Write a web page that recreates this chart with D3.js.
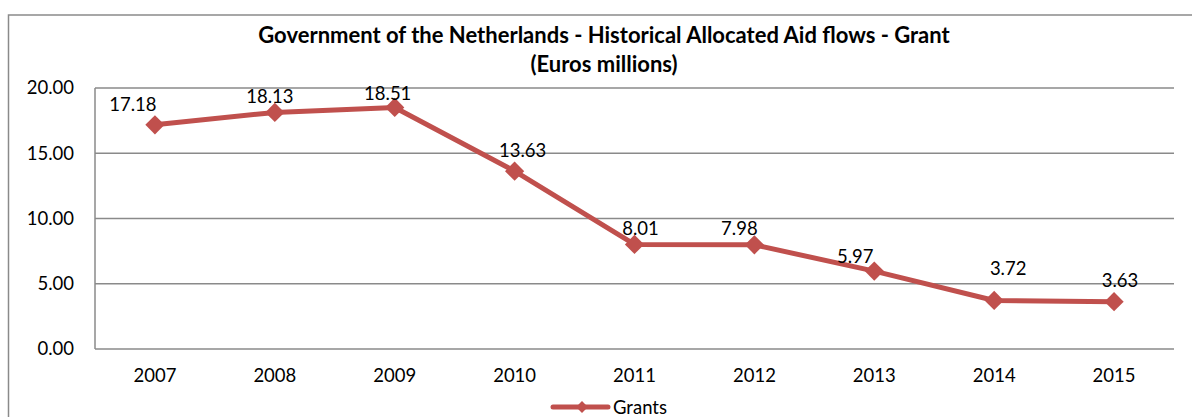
<!DOCTYPE html>
<html>
<head>
<meta charset="utf-8">
<script src="https://cdn.jsdelivr.net/npm/d3@7"></script>
<style>
  html, body { margin: 0; padding: 0; background: #fff; }
  svg { display: block; }
  text { font-family: Lato, "Open Sans", sans-serif; fill: #000; }
</style>
</head>
<body>
<svg id="chart" width="1192" height="417"></svg>
<script>
// Grant allocations per year, euros millions
const years = ["2007", "2008", "2009", "2010", "2011", "2012", "2013", "2014", "2015"];
const grants = [17.18, 18.13, 18.51, 13.63, 8.01, 7.98, 5.97, 3.72, 3.63];
const yTicks = [0, 5, 10, 15, 20];
const titleLines = [
  "Government of the Netherlands - Historical Allocated Aid flows - Grant",
  "(Euros millions)"
];
const seriesName = "Grants";

// hand-placed nudges for the value labels, relative to each marker
const labelNudge = [[-22, -21], [-5, -16], [-7, -14], [8, -21], [6, -16], [-15, -17], [-19, -15], [14, -32], [6, -22]];

const W = 1192, H = 417;
const plot = { left: 95, right: 1174, top: 88, bottom: 349 };
const RED = "#C0504D";
const GRID = "#8a8a8a";

const svg = d3.select("#chart");

// outer chart frame (extends past the right/bottom of the view)
svg.append("rect")
  .attr("x", 8.5).attr("y", 15)
  .attr("width", 1300).attr("height", 600)
  .attr("fill", "#fff")
  .attr("stroke", GRID).attr("stroke-width", 1.5);

const x = d3.scaleBand().domain(years).range([plot.left, plot.right]);
const y = d3.scaleLinear().domain([0, 20]).range([plot.bottom, plot.top]);

// title
svg.append("g").selectAll("text")
  .data(titleLines).join("text")
  .attr("x", 604)
  .attr("y", (d, i) => 34 + i * 29)
  .attr("text-anchor", "middle")
  .attr("dominant-baseline", "central")
  .attr("font-weight", "bold")
  .attr("font-size", 22)
  .text(d => d);

// horizontal gridlines
svg.append("g").selectAll("line")
  .data(yTicks).join("line")
  .attr("x1", plot.left).attr("x2", plot.right)
  .attr("y1", d => y(d)).attr("y2", d => y(d))
  .attr("stroke", GRID).attr("stroke-width", 1.5);

// vertical axis line
svg.append("line")
  .attr("x1", plot.left).attr("x2", plot.left)
  .attr("y1", y(20)).attr("y2", y(0))
  .attr("stroke", GRID).attr("stroke-width", 1.5);

// y axis labels
const yAxis = d3.axisLeft(y).tickValues(yTicks).tickFormat(d3.format(".2f")).tickSize(0).tickPadding(21);
const gy = svg.append("g").attr("transform", `translate(${plot.left},0)`).call(yAxis);
gy.select(".domain").remove();
gy.selectAll("text").attr("font-size", 18.5).attr("font-family", "Lato, sans-serif").attr("fill", "#000");

// x axis labels
const xAxis = d3.axisBottom(x).tickSize(0).tickPadding(20);
const gx = svg.append("g").attr("transform", `translate(0,${plot.bottom})`).call(xAxis);
gx.select(".domain").remove();
gx.selectAll("text").attr("font-size", 18.5).attr("font-family", "Lato, sans-serif").attr("fill", "#000");

const cx = (d, i) => x(years[i]) + x.bandwidth() / 2;

// series line
const line = d3.line().x((d, i) => cx(d, i)).y(d => y(d));
svg.append("path")
  .datum(grants)
  .attr("d", line)
  .attr("fill", "none")
  .attr("stroke", RED)
  .attr("stroke-width", 5)
  .attr("stroke-linejoin", "round");

// diamond markers: squares turned 45 degrees
const diamond = d3.symbol().type(d3.symbolSquare).size(185);
svg.append("g").selectAll("path")
  .data(grants).join("path")
  .attr("d", diamond)
  .attr("transform", (d, i) => `translate(${cx(d, i)},${y(d)}) rotate(45)`)
  .attr("fill", RED);

// value labels
svg.append("g").selectAll("text")
  .data(grants).join("text")
  .attr("x", (d, i) => cx(d, i) + labelNudge[i][0])
  .attr("y", (d, i) => y(d) + labelNudge[i][1])
  .attr("text-anchor", "middle")
  .attr("dominant-baseline", "central")
  .attr("font-size", 18.5)
  .text(d => d3.format(".2f")(d));

// legend
const lg = svg.append("g").attr("transform", "translate(553,407)");
lg.append("line").attr("x1", 0).attr("x2", 55).attr("y1", 0).attr("y2", 0)
  .attr("stroke", RED).attr("stroke-width", 5).attr("stroke-linecap", "round");
lg.append("path").attr("d", d3.symbol().type(d3.symbolSquare).size(70))
  .attr("transform", "translate(29,0) rotate(45)").attr("fill", RED);
lg.append("text").attr("x", 60).attr("y", 0)
  .attr("dominant-baseline", "central")
  .attr("font-size", 18.5)
  .text(seriesName);
</script>
</body>
</html>
